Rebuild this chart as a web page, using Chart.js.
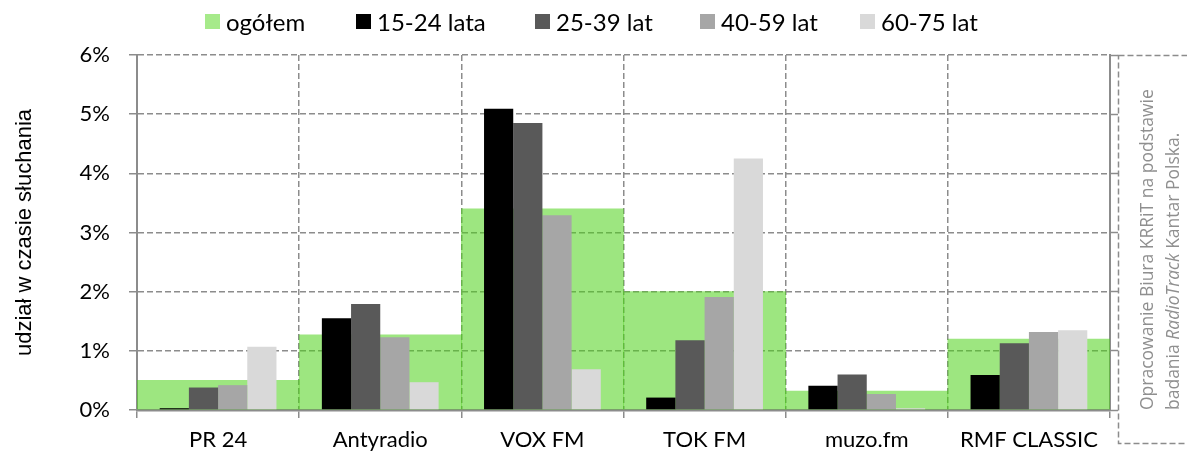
<!DOCTYPE html>
<html lang="pl">
<head>
<meta charset="utf-8">
<script src="https://cdn.jsdelivr.net/npm/chart.js@4.4.1/dist/chart.umd.min.js"></script>
<style>
  html, body { margin: 0; padding: 0; background: #fff; }
  #wrap { position: relative; width: 1187px; height: 456px; }
  #legend { position: absolute; top: 0; left: 0; width: 1187px; height: 42px; font-family: Lato, sans-serif; font-size: 24px; color: #000; }
  .item { position: absolute; top: 7px; display: flex; align-items: center; white-space: nowrap; }
  .sw { width: 15px; height: 15px; margin-right: 6px; }
</style>
</head>
<body>
<div id="wrap">
  <canvas id="chart" width="1187" height="456"></canvas>
  <div id="legend"></div>
</div>
<script>
// ─── Data ─────────────────────────────────────────────────────────────────
const categories = ['PR 24', 'Antyradio', 'VOX FM', 'TOK FM', 'muzo.fm', 'RMF CLASSIC'];
const ogolem   = [0.50, 1.27, 3.40, 2.00, 0.32, 1.20];
const lata1524 = [0.03, 1.55, 5.09, 0.21, 0.41, 0.59];
const lat2539  = [0.38, 1.79, 4.85, 1.18, 0.60, 1.13];
const lat4059  = [0.42, 1.23, 3.29, 1.91, 0.27, 1.32];
const lat6075  = [1.07, 0.47, 0.69, 4.25, 0.03, 1.35];
const seriesNames = ['ogółem', '15-24 lata', '25-39 lat', '40-59 lat', '60-75 lat'];
const yTickValues = [0, 1, 2, 3, 4, 5, 6];

// ─── Style ────────────────────────────────────────────────────────────────
const GREEN = 'rgba(77, 210, 24, 0.55)';
const seriesColors = [GREEN, '#000000', '#595959', '#a6a6a6', '#d9d9d9'];
const legendSwatch = ['#a6ea8a', '#000000', '#595959', '#a6a6a6', '#d9d9d9'];
const legendX = [205, 356, 535, 700, 860];
const GRID = '#8c8c8c';
const LABEL_FONT = { family: 'Lato, sans-serif', size: 22 };

// ─── Legend (HTML) ────────────────────────────────────────────────────────
const legendEl = document.getElementById('legend');
seriesNames.forEach((name, i) => {
  const item = document.createElement('div');
  item.className = 'item';
  item.style.left = legendX[i] + 'px';
  item.innerHTML = `<span class="sw" style="background:${legendSwatch[i]}"></span>${name}`;
  legendEl.appendChild(item);
});

// ─── Side note box ────────────────────────────────────────────────────────
const notePlugin = {
  id: 'note',
  afterDraw(chart) {
    const ctx = chart.ctx;
    const top = chart.chartArea.top;
    ctx.save();
    ctx.strokeStyle = GRID;
    ctx.lineWidth = 1.5;
    ctx.setLineDash([6, 3]);
    ctx.strokeRect(1118.5, top + 0.5, 100, 388);
    ctx.setLineDash([]);

    ctx.fillStyle = '#8f8f8f';
    ctx.textBaseline = 'alphabetic';
    ctx.textAlign = 'left';
    const normal = '17.5px "Open Sans", sans-serif';
    const italic = 'italic 17.5px "Open Sans", sans-serif';

    ctx.save();
    ctx.translate(1153, 410);
    ctx.rotate(-Math.PI / 2);
    ctx.font = normal;
    ctx.fillText('Opracowanie Biura KRRiT na podstawie', 0, 0);
    ctx.restore();

    ctx.save();
    ctx.translate(1179, 410);
    ctx.rotate(-Math.PI / 2);
    const parts = [['badania ', normal], ['RadioTrack', italic], [' Kantar Polska.', normal]];
    let x = 0;
    parts.forEach(([t, f]) => {
      ctx.font = f;
      ctx.fillText(t, x, 0);
      x += ctx.measureText(t).width;
    });
    ctx.restore();
    ctx.restore();
  }
};

// ─── Chart ────────────────────────────────────────────────────────────────
const groupSeries = [lata1524, lat2539, lat4059, lat6075];

// "ogółem" fills the whole category behind the four age groups
const datasets = [{
  label: seriesNames[0],
  data: ogolem,
  backgroundColor: seriesColors[0],
  grouped: false,
  barPercentage: 1,
  categoryPercentage: 1,
  order: 2,
}].concat(groupSeries.map((values, i) => ({
  label: seriesNames[i + 1],
  data: values,
  backgroundColor: seriesColors[i + 1],
  barPercentage: 1,
  categoryPercentage: 0.72,
  order: 1,
})));

new Chart(document.getElementById('chart'), {
  type: 'bar',
  data: { labels: categories, datasets },
  plugins: [notePlugin],
  options: {
    responsive: false,
    animation: false,
    layout: { padding: { top: 55, left: 0, right: 69, bottom: 0 } },
    plugins: { legend: { display: false }, tooltip: { enabled: false } },
    scales: {
      x: {
        offset: true,
        grid: { offset: true, color: GRID, lineWidth: 1.5, tickLength: 8, tickColor: GRID, tickWidth: 1.5 },
        border: { color: GRID, width: 2.5, dash: [6, 3] },
        ticks: { color: '#000', font: LABEL_FONT, padding: 9, maxRotation: 0, autoSkip: false },
        afterFit: (s) => { s.height = 46; },
      },
      y: {
        min: 0,
        max: 6,
        afterBuildTicks: (s) => { s.ticks = yTickValues.map(v => ({ value: v })); },
        ticks: { color: '#000', font: LABEL_FONT, padding: 19, callback: (v) => v + '%' },
        grid: { color: GRID, lineWidth: 1.5, tickLength: 8, tickColor: GRID, tickWidth: 1.5 },
        border: { color: GRID, width: 2, dash: [6, 3] },
        title: {
          display: true,
          text: 'udział w czasie słuchania',
          color: '#000',
          font: { family: '"Liberation Sans", sans-serif', size: 22 },
          padding: { top: 12, bottom: 0 },
        },
        afterFit: (s) => { s.width = 137; },
      },
      yr: {
        position: 'right',
        min: 0,
        max: 6,
        afterBuildTicks: (s) => { s.ticks = yTickValues.map(v => ({ value: v })); },
        ticks: { display: false },
        grid: { drawOnChartArea: false, color: GRID, tickLength: 8, tickColor: GRID, tickWidth: 1.5 },
        border: { color: GRID, width: 2 },
        afterFit: (s) => { s.width = 8; },
      },
    },
  },
});
</script>
</body>
</html>
